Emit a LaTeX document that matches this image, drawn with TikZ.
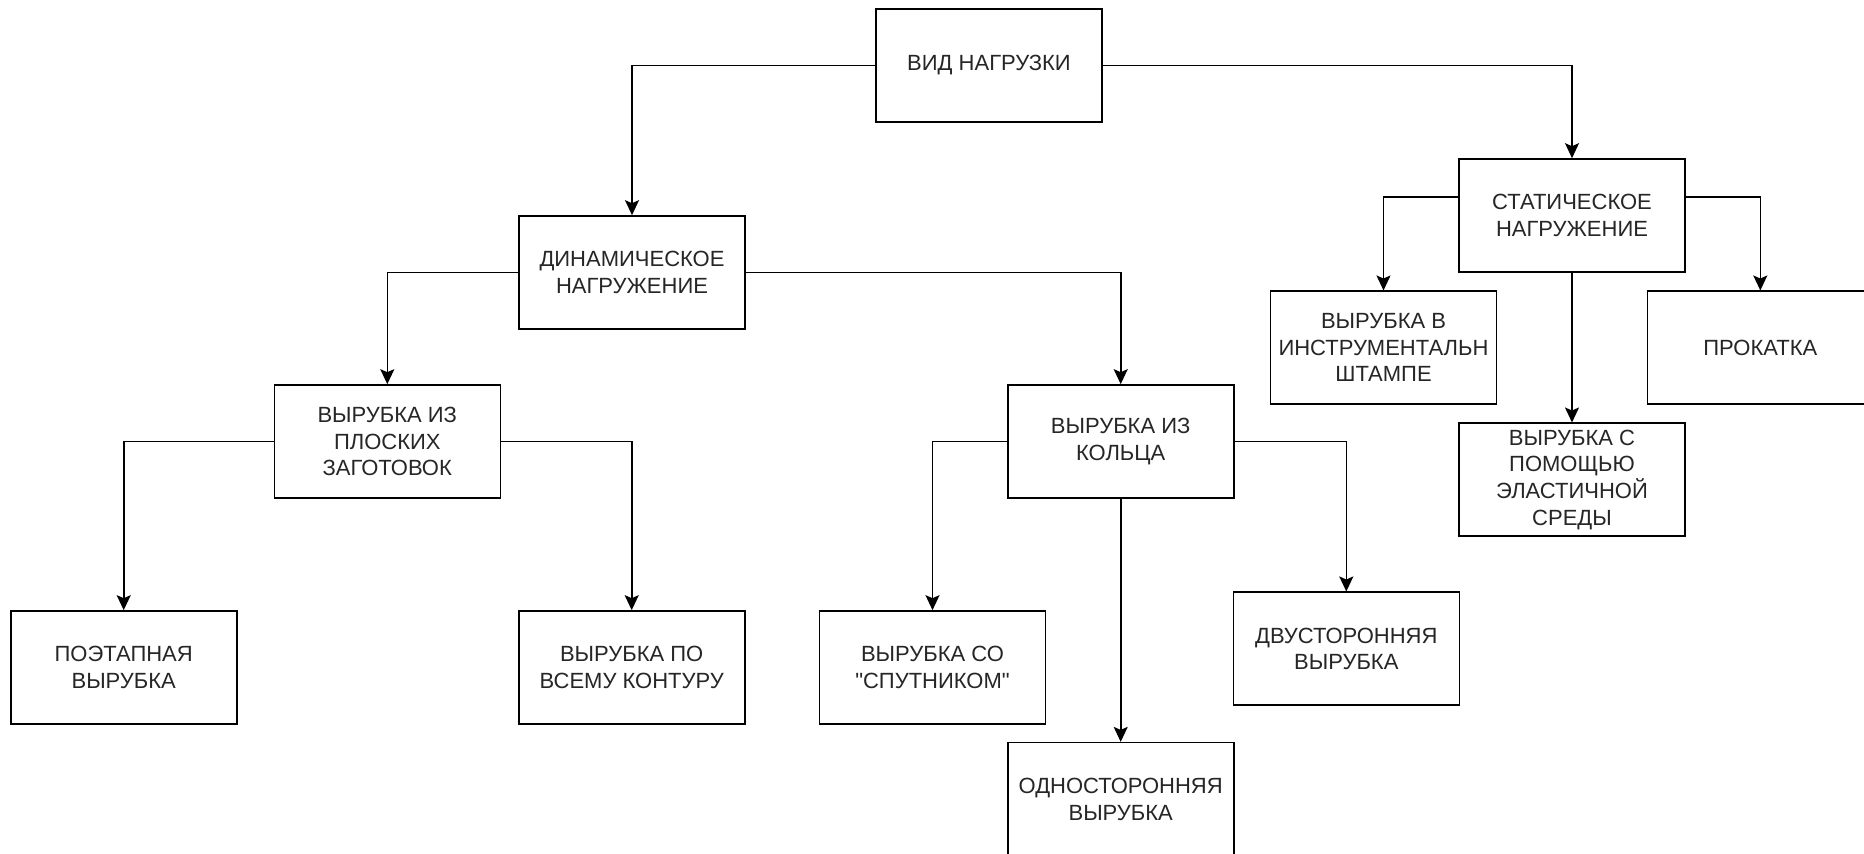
\documentclass[tikz,border=0pt]{standalone}
\usepackage{fontspec}
\setmainfont[Ligatures=TeXOff]{Liberation Sans}
\usetikzlibrary{arrows.meta}
\tikzset{
  box/.style={draw=black, line width=0.8pt, rectangle, minimum width=113pt, minimum height=56.5pt,
    inner sep=0pt, align=center, text=black!85, font=\fontsize{11pt}{13.3pt}\selectfont},
  conn/.style={draw=black, line width=0.8pt, -{Stealth[length=7.5pt,width=7pt,inset=1.5pt]}}
}
\begin{document}
\begin{tikzpicture}[x=0.5pt,y=-0.5pt]
\clip (0,0) rectangle (1864,854);
\fill[white] (0,0) rectangle (1864,854);
\node[box] (vid) at (989,65.5) {ВИД НАГРУЗКИ};
\node[box] (din) at (632,272.5) {ДИНАМИЧЕСКОЕ\\НАГРУЖЕНИЕ};
\node[box] (stat) at (1572,215.5) {СТАТИЧЕСКОЕ\\НАГРУЖЕНИЕ};
\node[box] (plo) at (387.3,441.5) {ВЫРУБКА ИЗ\\ПЛОСКИХ\\ЗАГОТОВОК};
\node[box] (kol) at (1120.7,441.5) {ВЫРУБКА ИЗ\\КОЛЬЦА};
\node[box] (poe) at (123.7,667.5) {ПОЭТАПНАЯ\\ВЫРУБКА};
\node[box] (vse) at (631.7,667.5) {ВЫРУБКА ПО\\ВСЕМУ КОНТУРУ};
\node[box] (spu) at (932.5,667.5) {ВЫРУБКА СО\\"СПУТНИКОМ"};
\node[box] (dvu) at (1346.3,648.8) {ДВУСТОРОННЯЯ\\ВЫРУБКА};
\node[box] (odn) at (1120.7,799.2) {ОДНОСТОРОННЯЯ\\ВЫРУБКА};
\node[box] (ins) at (1383.5,347.8) {ВЫРУБКА В\\ИНСТРУМЕНТАЛЬН\\ШТАМПЕ};
\node[box] (pro) at (1760.3,347.8) {ПРОКАТКА};
\node[box] (ela) at (1572,479.8) {ВЫРУБКА С\\ПОМОЩЬЮ\\ЭЛАСТИЧНОЙ\\СРЕДЫ};

\draw[conn] (vid.west) -| (din.north);
\draw[conn] (vid.east) -| (stat.north);
\draw[conn] (din.west) -| (plo.north);
\draw[conn] (din.east) -| (kol.north);
\draw[conn] (plo.west) -| (poe.north);
\draw[conn] (plo.east) -| (vse.north);
\draw[conn] (kol.west) -| (spu.north);
\draw[conn] (kol.east) -| (dvu.north);
\draw[conn] (kol.south) -- (odn.north);
\draw[conn] ([yshift=9.25pt]stat.west) -| (ins.north);
\draw[conn] ([yshift=9.25pt]stat.east) -| (pro.north);
\draw[conn] (stat.south) -- (ela.north);
\end{tikzpicture}
\end{document}
